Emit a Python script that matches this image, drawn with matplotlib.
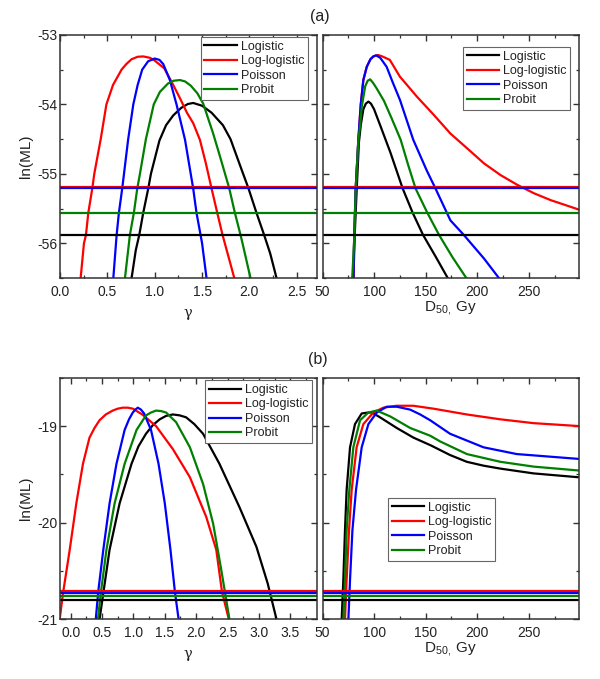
import matplotlib
matplotlib.use("Agg")
import matplotlib.pyplot as plt
from matplotlib.ticker import MultipleLocator

plt.rcParams['font.family'] = ['Liberation Sans', 'DejaVu Sans']
plt.rcParams['mathtext.default'] = 'regular'

# ---------------- data ----------------
series = ["Logistic", "Log-logistic", "Poisson", "Probit"]

# Panel (a), ln(ML) vs gamma
a_g_logistic_x = [0.756, 0.80, 0.837, 0.879, 0.932, 0.96, 1.05, 1.12, 1.195, 1.28, 1.35, 1.406, 1.50, 1.60, 1.72, 1.80, 1.92, 1.99, 2.074, 2.155, 2.22, 2.286]
a_g_logistic_y = [-56.5, -56.1, -55.88, -55.56, -55.21, -55.0, -54.52, -54.3, -54.16, -54.05, -53.995, -53.98, -54.02, -54.12, -54.3, -54.5, -54.95, -55.21, -55.56, -55.88, -56.15, -56.5]
a_g_loglog_x = [0.218, 0.253, 0.274, 0.299, 0.341, 0.362, 0.43, 0.49, 0.56, 0.65, 0.70, 0.756, 0.82, 0.879, 0.95, 1.0, 1.1, 1.18, 1.266, 1.34, 1.406, 1.477, 1.54, 1.6, 1.66, 1.716, 1.74, 1.84]
a_g_loglog_y = [-56.5, -56.0, -55.88, -55.56, -55.21, -55.0, -54.5, -54.0, -53.72, -53.5, -53.42, -53.35, -53.315, -53.31, -53.33, -53.37, -53.48, -53.68, -53.91, -54.12, -54.27, -54.51, -54.85, -55.21, -55.56, -55.88, -56.0, -56.5]
a_g_poisson_x = [0.563, 0.598, 0.622, 0.657, 0.72, 0.774, 0.82, 0.868, 0.93, 1.0, 1.05, 1.09, 1.16, 1.23, 1.32, 1.406, 1.441, 1.484, 1.5, 1.547]
a_g_poisson_y = [-56.5, -55.88, -55.56, -55.21, -54.5, -54.0, -53.72, -53.5, -53.38, -53.34, -53.36, -53.42, -53.65, -54.0, -54.51, -55.21, -55.56, -55.88, -56.0, -56.5]
a_g_probit_x = [0.686, 0.738, 0.78, 0.816, 0.844, 0.907, 0.99, 1.055, 1.14, 1.20, 1.266, 1.32, 1.38, 1.45, 1.512, 1.617, 1.70, 1.787, 1.846, 1.906, 1.927, 2.011]
a_g_probit_y = [-56.5, -55.88, -55.56, -55.21, -55.0, -54.5, -54.0, -53.82, -53.7, -53.66, -53.65, -53.67, -53.73, -53.84, -53.99, -54.42, -54.8, -55.21, -55.56, -55.88, -56.0, -56.5]

# Panel (a), ln(ML) vs D50
a_d_logistic_x = [80.0, 81.3, 83.2, 85.3, 87.1, 89.6, 92.0, 94.5, 97.0, 100.0, 106.4, 116.0, 127.7, 137.4, 147.5, 160.0, 171.4]
a_d_logistic_y = [-56.5, -55.86, -55.21, -54.55, -54.3, -54.07, -53.99, -53.96, -53.99, -54.07, -54.32, -54.7, -55.21, -55.56, -55.88, -56.2, -56.5]
a_d_loglog_x = [80.0, 80.6, 82.2, 84.8, 87.1, 89.6, 92.9, 96.5, 99.3, 102.0, 104.0, 108.0, 115.3, 125.0, 141.6, 157.8, 174.0, 190.0, 206.6, 222.8, 239.0, 255.0, 271.4, 299.6]
a_d_loglog_y = [-56.5, -56.0, -55.21, -54.5, -54.0, -53.65, -53.46, -53.35, -53.31, -53.295, -53.29, -53.31, -53.36, -53.6, -53.89, -54.15, -54.42, -54.63, -54.85, -55.02, -55.16, -55.28, -55.38, -55.52]
a_d_poisson_x = [80.0, 80.6, 82.2, 84.8, 87.1, 89.6, 92.9, 96.5, 99.3, 102.0, 106.0, 112.2, 118.0, 125.2, 138.0, 151.0, 159.5, 174.0, 187.0, 206.6, 221.0]
a_d_poisson_y = [-56.5, -56.0, -55.21, -54.5, -54.0, -53.65, -53.46, -53.35, -53.31, -53.295, -53.33, -53.46, -53.68, -53.94, -54.51, -54.95, -55.21, -55.67, -55.88, -56.22, -56.5]
a_d_probit_x = [78.8, 80.6, 82.2, 84.8, 86.5, 88.1, 91.4, 93.8, 96.2, 99.0, 102.5, 109.6, 117.0, 125.8, 133.0, 140.2, 151.6, 163.0, 176.0, 189.4]
a_d_probit_y = [-56.5, -56.0, -55.21, -54.5, -54.3, -54.03, -53.74, -53.66, -53.64, -53.69, -53.77, -53.95, -54.2, -54.51, -54.87, -55.21, -55.56, -55.88, -56.2, -56.5]

# Panel (b), ln(ML) vs gamma
b_g_logistic_x = [0.46, 0.52, 0.62, 0.78, 0.97, 1.08, 1.20, 1.31, 1.42, 1.52, 1.63, 1.74, 1.84, 1.97, 2.11, 2.37, 2.69, 2.96, 3.14, 3.28]
b_g_logistic_y = [-21.0, -20.73, -20.28, -19.80, -19.39, -19.21, -19.08, -18.99, -18.93, -18.895, -18.88, -18.89, -18.91, -18.98, -19.08, -19.39, -19.84, -20.25, -20.63, -21.0]
b_g_loglog_x = [-0.175, -0.122, -0.015, 0.09, 0.196, 0.30, 0.38, 0.46, 0.56, 0.67, 0.75, 0.83, 0.91, 0.99, 1.14, 1.36, 1.63, 1.90, 2.16, 2.32, 2.41, 2.52]
b_g_loglog_y = [-21.0, -20.73, -20.28, -19.80, -19.39, -19.12, -19.02, -18.94, -18.88, -18.84, -18.82, -18.81, -18.81, -18.82, -18.88, -19.0, -19.24, -19.53, -19.94, -20.28, -20.71, -21.0]
b_g_poisson_x = [0.40, 0.44, 0.52, 0.62, 0.73, 0.86, 0.93, 0.99, 1.03, 1.07, 1.12, 1.17, 1.28, 1.40, 1.50, 1.59, 1.66, 1.72]
b_g_poisson_y = [-21.0, -20.71, -20.28, -19.80, -19.39, -19.04, -18.93, -18.86, -18.83, -18.81, -18.83, -18.87, -19.04, -19.39, -19.80, -20.28, -20.71, -21.0]
b_g_probit_x = [0.435, 0.48, 0.57, 0.70, 0.86, 1.05, 1.20, 1.28, 1.36, 1.44, 1.52, 1.68, 1.90, 2.11, 2.27, 2.40, 2.53]
b_g_probit_y = [-21.0, -20.73, -20.28, -19.80, -19.39, -19.04, -18.89, -18.86, -18.84, -18.845, -18.86, -18.96, -19.22, -19.60, -20.01, -20.49, -21.0]

# Panel (b), ln(ML) vs D50
b_d_logistic_x = [68.6, 70.2, 71.8, 73.4, 76.7, 81.5, 88.0, 94.5, 98.0, 105.8, 122.0, 138.2, 155.0, 173.7, 189.9, 206.1, 222.2, 254.6, 298.3]
b_d_logistic_y = [-21.0, -20.59, -20.08, -19.66, -19.22, -18.98, -18.87, -18.86, -18.86, -18.91, -19.02, -19.12, -19.2, -19.3, -19.37, -19.41, -19.44, -19.49, -19.53]
b_d_loglog_x = [71.8, 73.4, 75.7, 78.3, 83.1, 89.6, 99.3, 109.0, 122.0, 138.0, 157.5, 189.9, 222.2, 254.6, 298.3]
b_d_loglog_y = [-21.0, -20.59, -20.08, -19.66, -19.22, -18.98, -18.86, -18.81, -18.79, -18.79, -18.82, -18.88, -18.93, -18.97, -19.0]
b_d_poisson_x = [75.1, 76.7, 79.0, 82.5, 88.0, 94.5, 102.6, 112.3, 122.0, 135.0, 144.7, 154.4, 173.7, 206.1, 238.4, 298.4]
b_d_poisson_y = [-21.0, -20.59, -20.08, -19.66, -19.22, -18.98, -18.86, -18.8, -18.8, -18.83, -18.88, -18.94, -19.08, -19.22, -19.29, -19.34]
b_d_probit_x = [70.2, 71.8, 73.4, 76.0, 79.9, 86.4, 94.5, 102.6, 115.6, 135.0, 154.4, 164.2, 190.0, 222.4, 254.8, 298.4]
b_d_probit_y = [-21.0, -20.59, -20.08, -19.66, -19.22, -18.94, -18.86, -18.84, -18.9, -19.02, -19.1, -19.16, -19.29, -19.37, -19.42, -19.46]

# 95% cut-off levels (Logistic, Log-logistic, Poisson, Probit)
a_cut = [-55.88, -55.19, -55.21, -55.56]
b_cut = [-20.80, -20.71, -20.73, -20.76]

# ---------------- style ----------------
colors = ["#000000", "#ff0000", "#0000ff", "#007f00"]
LW = 1.6
FS = 10
LFS = 9
TXT = "#222222"

fig = plt.figure(figsize=(6.0, 6.79), dpi=100)
ax_tl = fig.add_axes([0.1, 0.5906, 0.4278, 0.358])
ax_tr = fig.add_axes([0.5375, 0.5906, 0.428, 0.358])
ax_bl = fig.add_axes([0.1, 0.0879, 0.4278, 0.3558])
ax_br = fig.add_axes([0.5375, 0.0879, 0.428, 0.3558])

panels = [
    (ax_tl, [(a_g_logistic_x, a_g_logistic_y), (a_g_loglog_x, a_g_loglog_y),
             (a_g_poisson_x, a_g_poisson_y), (a_g_probit_x, a_g_probit_y)], a_cut),
    (ax_tr, [(a_d_logistic_x, a_d_logistic_y), (a_d_loglog_x, a_d_loglog_y),
             (a_d_poisson_x, a_d_poisson_y), (a_d_probit_x, a_d_probit_y)], a_cut),
    (ax_bl, [(b_g_logistic_x, b_g_logistic_y), (b_g_loglog_x, b_g_loglog_y),
             (b_g_poisson_x, b_g_poisson_y), (b_g_probit_x, b_g_probit_y)], b_cut),
    (ax_br, [(b_d_logistic_x, b_d_logistic_y), (b_d_loglog_x, b_d_loglog_y),
             (b_d_poisson_x, b_d_poisson_y), (b_d_probit_x, b_d_probit_y)], b_cut),
]

for ax, curves, cuts in panels:
    for (x, y), c, name in zip(curves, colors, series):
        ax.plot(x, y, color=c, lw=LW, label=name, solid_joinstyle='round')
    for lvl, c in zip(cuts, colors):
        ax.axhline(lvl, color=c, lw=LW)
    for s in ax.spines.values():
        s.set_linewidth(1.1)
        s.set_color("#333333")
    ax.tick_params(which='both', direction='in', top=True, right=True,
                   colors="#333333", labelcolor=TXT, labelsize=FS)
    ax.tick_params(which='major', length=4, width=1.0)
    ax.tick_params(which='minor', length=2.5, width=0.9)
    ax.tick_params(axis='x', pad=5)
    ax.tick_params(axis='y', pad=2)

# limits and ticks
ax_tl.set_xlim(0, 2.71)
ax_tl.set_xticks([0, 0.5, 1.0, 1.5, 2.0, 2.5])
ax_tl.set_xticklabels(["0.0", "0.5", "1.0", "1.5", "2.0", "2.5"])
ax_tl.xaxis.set_minor_locator(MultipleLocator(0.25))

ax_bl.set_xlim(-0.17, 3.92)
ax_bl.set_xticks([0, 0.5, 1.0, 1.5, 2.0, 2.5, 3.0, 3.5])
ax_bl.set_xticklabels(["0.0", "0.5", "1.0", "1.5", "2.0", "2.5", "3.0", "3.5"])
ax_bl.xaxis.set_minor_locator(MultipleLocator(0.25))

for ax in (ax_tr, ax_br):
    ax.set_xlim(50, 299)
    ax.set_xticks([50, 100, 150, 200, 250])
    ax.xaxis.set_minor_locator(MultipleLocator(25))
    ax.tick_params(axis='y', labelleft=False)

for ax in (ax_tl, ax_tr):
    ax.set_ylim(-56.5, -53)
    ax.set_yticks([-56, -55, -54, -53])
    ax.set_yticklabels(["-56", "-55", "-54", "-53"])
    ax.yaxis.set_minor_locator(MultipleLocator(0.5))
for ax in (ax_bl, ax_br):
    ax.set_ylim(-21, -18.5)
    ax.set_yticks([-21, -20, -19])
    ax.set_yticklabels(["-21", "-20", "-19"])
    ax.yaxis.set_minor_locator(MultipleLocator(0.5))

# labels
for ax in (ax_tl, ax_bl):
    ax.set_ylabel("ln(ML)", fontsize=11, color=TXT, labelpad=3)
    ax.set_xlabel("γ", fontsize=10.5, color=TXT, labelpad=5,
                  family=['DejaVu Serif'])
for ax in (ax_tr, ax_br):
    ax.set_xlabel("D$_{50,}$\u2009Gy", fontsize=11, color=TXT, labelpad=0)

# legends
leg_kw = dict(fontsize=LFS, handlelength=2.6, handletextpad=0.3, labelspacing=0.2,
              borderpad=0.3, borderaxespad=0, fancybox=False, framealpha=1,
              edgecolor="#666666")
l1 = ax_tl.legend(loc='upper right', bbox_to_anchor=(0.966, 0.992), **leg_kw)
l2 = ax_tr.legend(loc='upper right', bbox_to_anchor=(0.964, 0.951), **leg_kw)
l3 = ax_bl.legend(loc='upper right', bbox_to_anchor=(0.982, 0.99), **leg_kw)
l4 = ax_br.legend(loc='upper left', bbox_to_anchor=(0.255, 0.502), **leg_kw)
for l in (l1, l2, l3, l4):
    l.get_frame().set_linewidth(0.8)
    for t in l.get_texts():
        t.set_color(TXT)

fig.text(0.533, 0.976, "(a)", fontsize=11.5, color=TXT, ha='center', va='center')
fig.text(0.530, 0.470, "(b)", fontsize=11.5, color=TXT, ha='center', va='center')

fig.savefig("out.png", dpi=100)
